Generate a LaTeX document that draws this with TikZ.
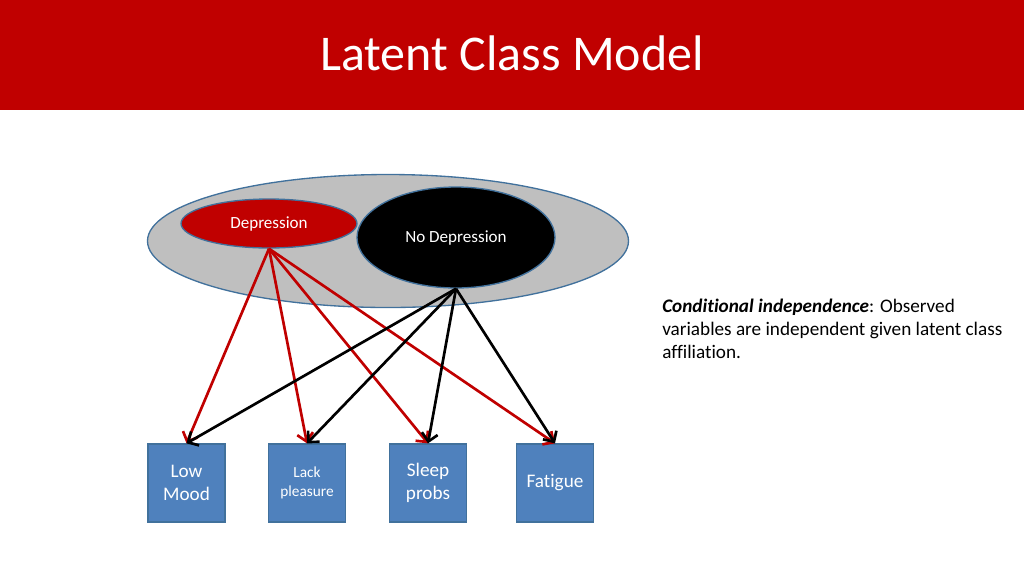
\documentclass[tikz,border=0pt]{standalone}
\usepackage{fontspec}
\setmainfont[Ligatures=NoCommon]{Carlito}
\usetikzlibrary{shapes.geometric,arrows.meta}
\definecolor{hdrred}{HTML}{C00000}
\definecolor{boxblue}{HTML}{4F81BD}
\definecolor{edgeblue}{HTML}{41719C}
\definecolor{classgray}{HTML}{BFBFBF}
\tikzset{
	obsbox/.style={draw=edgeblue, line width=1pt, fill=boxblue, text=white, minimum width=57.75pt, minimum height=58.5pt, align=center, inner sep=1pt, font=\fontsize{14.4}{17.3}\selectfont},
	classnode/.style={ellipse, draw=edgeblue, line width=1pt, text=white, inner sep=0pt, font=\fontsize{12.8}{15}\selectfont},
	loading/.style={line width=2pt, -{Straight Barb[length=6pt,width=12pt]}}
}

\begin{document}
\begin{tikzpicture}[x=0.75pt,y=-0.75pt]
	\useasboundingbox (0,0) rectangle (1024,576);
	% header bar
	\fill[hdrred] (0,0) rectangle (1024,110);
	\node[text=white, font=\fontsize{37.5}{44}\selectfont] (title) at (512,53) {Latent Class Model};
	% latent classes
	\node[classnode, fill=classgray, minimum width=360.75pt, minimum height=99.75pt] (latent) at (388,241) {};
	\node[classnode, fill=hdrred, minimum width=132pt, minimum height=36.75pt] (dep) at (269,223.5) {\raisebox{-1.5pt}{Depression}};
	\node[classnode, fill=black, minimum width=148.5pt, minimum height=75.75pt] (nodep) at (456,237.5) {\raisebox{-1.5pt}{No Depression}};
	% observed variables
	\node[obsbox] (low) at (186.5,483) {Low\\Mood};
	\node[obsbox, font=\fontsize{11.5}{14.5}\selectfont] (lack) at (307,483) {Lack\\pleasure};
	\node[obsbox] (sleep) at (428,483) {Sleep\\probs};
	\node[obsbox] (fat) at (555,483) {Fatigue};
	\path
		(dep.south) edge [loading, hdrred] (low.north)
		(dep.south) edge [loading, hdrred] (lack.north)
		(dep.south) edge [loading, hdrred] (sleep.north)
		(dep.south) edge [loading, hdrred] (fat.north)
		(nodep.south) edge [loading, black] (low.north)
		(nodep.south) edge [loading, black] (lack.north)
		(nodep.south) edge [loading, black] (sleep.north)
		(nodep.south) edge [loading, black] (fat.north);
	% note
	\node[anchor=north west, inner sep=0pt, align=left, font=\fontsize{14.4}{17.3}\selectfont] (note) at (662,299)
		{\textbf{\textit{Conditional independence}}: Observed\\variables are independent given latent class\\affiliation.};
\end{tikzpicture}
\end{document}
